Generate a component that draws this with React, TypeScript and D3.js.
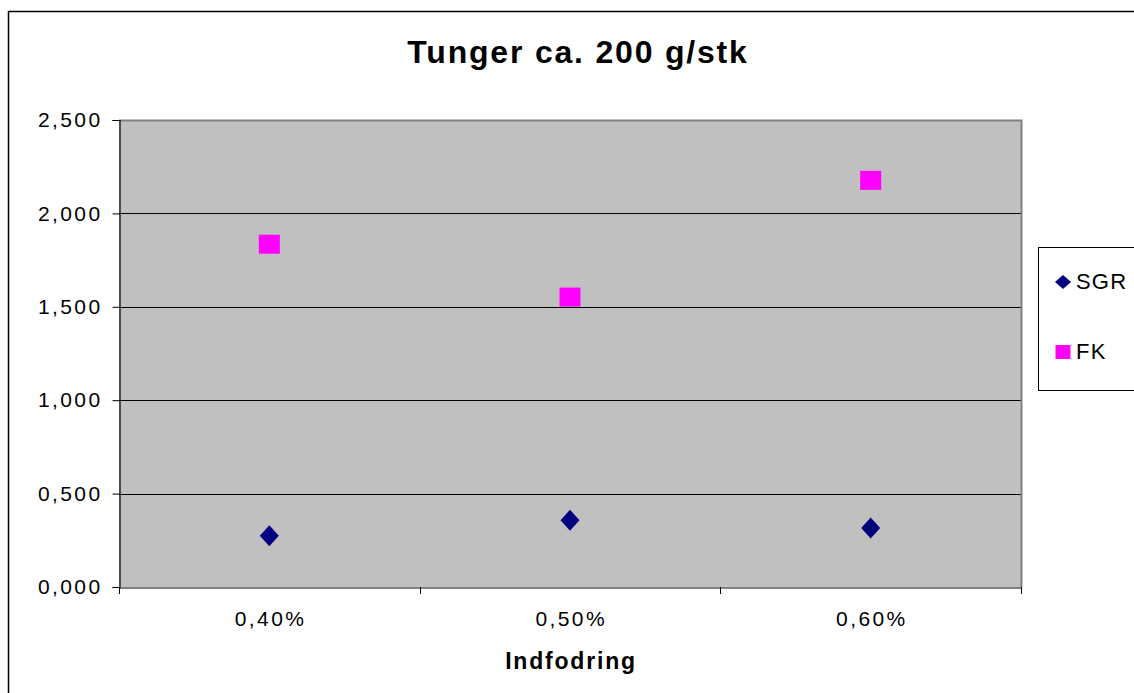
import React, { useEffect, useRef } from "react";
import * as d3 from "d3";

// data
const categories = ["0,40%", "0,50%", "0,60%"];
const sgrValues = [0.274, 0.358, 0.316];
const fkValues = [1.835, 1.552, 2.177];
const yTicks = [0, 0.5, 1, 1.5, 2, 2.5];

const seriesNames = ["SGR", "FK"];
const seriesColors = ["#000080", "#FF00FF"];

const App = () => {
  const svgRef = useRef(null);
  const width = 1134;
  const height = 693;
  const plot = { left: 119, right: 1021, top: 120, bottom: 587 };
  const font = "'Liberation Sans', Arial, sans-serif";

  useEffect(() => {
    const svg = d3.select(svgRef.current).attr("width", width).attr("height", height);
    svg.selectAll("*").remove();

    // outer chart border
    svg
      .append("rect")
      .attr("x", 8.5)
      .attr("y", 11.5)
      .attr("width", width + 10)
      .attr("height", height + 10)
      .attr("fill", "white")
      .attr("stroke", "#000")
      .attr("stroke-width", 1.5);

    const x = d3
      .scaleBand()
      .domain(categories)
      .range([plot.left, plot.right])
      .padding(0);

    const y = d3.scaleLinear().domain([0, 2.5]).range([plot.bottom, plot.top]);

    // plot background
    svg
      .append("rect")
      .attr("x", plot.left)
      .attr("y", plot.top)
      .attr("width", plot.right - plot.left)
      .attr("height", plot.bottom - plot.top)
      .attr("fill", "#C0C0C0");

    // gridlines
    svg
      .append("g")
      .selectAll("line")
      .data(yTicks.filter((t) => t > 0 && t < 2.5))
      .enter()
      .append("line")
      .attr("x1", plot.left)
      .attr("x2", plot.right)
      .attr("y1", (d) => Math.round(y(d)) + 0.5)
      .attr("y2", (d) => Math.round(y(d)) + 0.5)
      .attr("stroke", "#000")
      .attr("stroke-width", 1);

    // top + right border of plot (grey)
    svg
      .append("path")
      .attr("d", `M${plot.left},${plot.top + 0.5}H${plot.right + 0.5}V${plot.bottom}`)
      .attr("fill", "none")
      .attr("stroke", "#808080")
      .attr("stroke-width", 2);

    // y axis
    const yAxis = svg
      .append("g")
      .attr("transform", `translate(${plot.left + 0.5},0)`)
      .call(
        d3
          .axisLeft(y)
          .tickValues(yTicks)
          .tickSize(7)
          .tickPadding(10)
          .tickFormat((d) => d3.format(",.3f")(d).replace(".", ","))
      );
    yAxis.select(".domain").attr("stroke", "#000").attr("stroke-width", 1.2);
    yAxis.selectAll(".tick line").attr("stroke", "#000");
    yAxis
      .selectAll("text")
      .attr("fill", "#000")
      .style("font-family", font)
      .style("font-size", "21px")
      .style("letter-spacing", "2.4px");

    // x axis
    const xAxis = svg
      .append("g")
      .attr("transform", `translate(0,${plot.bottom + 0.5})`)
      .call(d3.axisBottom(x).tickSize(0).tickPadding(24));
    xAxis.select(".domain").attr("stroke", "#000").attr("stroke-width", 1.2);
    xAxis
      .selectAll("text")
      .attr("fill", "#000")
      .attr("dx", "1.2px")
      .style("font-family", font)
      .style("font-size", "21px")
      .style("letter-spacing", "2.4px");

    // x ticks at category boundaries
    const bounds = categories.map((c) => x(c)).concat([plot.right]);
    svg
      .append("g")
      .selectAll("line")
      .data(bounds)
      .enter()
      .append("line")
      .attr("x1", (d) => Math.round(d) + 0.5)
      .attr("x2", (d) => Math.round(d) + 0.5)
      .attr("y1", plot.bottom)
      .attr("y2", plot.bottom + 7)
      .attr("stroke", "#000");

    const cx = (c) => x(c) + x.bandwidth() / 2;

    // SGR diamonds
    const diamond = "M0,-10.5L9.5,0L0,10.5L-9.5,0Z";
    svg
      .append("g")
      .selectAll("path")
      .data(sgrValues)
      .enter()
      .append("path")
      .attr("d", diamond)
      .attr("transform", (d, i) => `translate(${cx(categories[i])},${y(d)})`)
      .attr("fill", seriesColors[0]);

    // FK squares
    svg
      .append("g")
      .selectAll("rect")
      .data(fkValues)
      .enter()
      .append("rect")
      .attr("x", (d, i) => cx(categories[i]) - 10.5)
      .attr("y", (d) => y(d) - 9.5)
      .attr("width", 21)
      .attr("height", 19)
      .attr("fill", seriesColors[1]);

    // title
    svg
      .append("text")
      .attr("x", 578)
      .attr("y", 63)
      .attr("text-anchor", "middle")
      .style("font-family", font)
      .style("font-size", "32px")
      .style("font-weight", "bold")
      .style("letter-spacing", "1.8px")
      .text("Tunger ca. 200 g/stk");

    // x axis title
    svg
      .append("text")
      .attr("x", 571)
      .attr("y", 669)
      .attr("text-anchor", "middle")
      .style("font-family", font)
      .style("font-size", "23px")
      .style("font-weight", "bold")
      .style("letter-spacing", "1.8px")
      .text("Indfodring");

    // legend
    const legend = svg.append("g");
    legend
      .append("rect")
      .attr("x", 1038.5)
      .attr("y", 247.5)
      .attr("width", 110)
      .attr("height", 143)
      .attr("fill", "white")
      .attr("stroke", "#000")
      .attr("stroke-width", 1);

    const items = legend
      .selectAll("g")
      .data(seriesNames)
      .enter()
      .append("g")
      .attr("transform", (d, i) => `translate(1063,${282 + i * 70})`);

    items
      .filter((d, i) => i === 0)
      .append("path")
      .attr("d", "M0,-7L8,0L0,7L-8,0Z")
      .attr("fill", seriesColors[0]);

    items
      .filter((d, i) => i === 1)
      .append("rect")
      .attr("x", -7.5)
      .attr("y", -7)
      .attr("width", 15)
      .attr("height", 14)
      .attr("fill", seriesColors[1]);

    items
      .append("text")
      .attr("x", 13)
      .attr("y", 7)
      .style("font-family", font)
      .style("font-size", "22px")
      .style("letter-spacing", "1.2px")
      .text((d) => d);
  }, []);

  return (
    <svg
      ref={svgRef}
      style={{ position: "absolute", left: 0, top: 0, display: "block" }}
    ></svg>
  );
};

export default App;
